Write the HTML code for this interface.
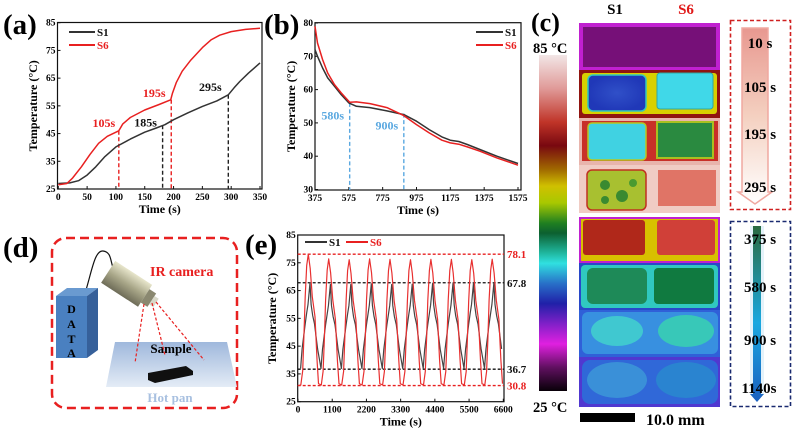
<!DOCTYPE html>
<html><head><meta charset="utf-8"><style>
body{margin:0;background:#fff;}
svg{display:block;font-family:"Liberation Serif",serif;font-weight:bold;}
</style></head><body>
<svg id="fig" width="797" height="431" viewBox="0 0 797 431" xmlns="http://www.w3.org/2000/svg">
<defs>
<linearGradient id="cbar" x1="0" y1="0" x2="0" y2="1">
<stop offset="0" stop-color="#f2e6e6"/><stop offset="0.1" stop-color="#e09a98"/><stop offset="0.2" stop-color="#c03428"/>
<stop offset="0.27" stop-color="#780810"/><stop offset="0.34" stop-color="#a06800"/><stop offset="0.39" stop-color="#d0c000"/>
<stop offset="0.44" stop-color="#a8c800"/><stop offset="0.5" stop-color="#208020"/><stop offset="0.53" stop-color="#0c6030"/>
<stop offset="0.59" stop-color="#20b8a0"/><stop offset="0.62" stop-color="#30e0e0"/><stop offset="0.68" stop-color="#2870c8"/>
<stop offset="0.74" stop-color="#2020a8"/><stop offset="0.8" stop-color="#8020c8"/><stop offset="0.86" stop-color="#e020e0"/>
<stop offset="0.93" stop-color="#601060"/><stop offset="1" stop-color="#080008"/></linearGradient>
<linearGradient id="pan" x1="0" y1="0" x2="0" y2="1"><stop offset="0" stop-color="#9fb8dc"/><stop offset="1" stop-color="#e4ecf6"/></linearGradient>
<linearGradient id="cam" x1="0" y1="0" x2="0" y2="1"><stop offset="0" stop-color="#e8e6cc"/><stop offset="0.5" stop-color="#a8a688"/><stop offset="1" stop-color="#6e6c58"/></linearGradient>
<linearGradient id="redArrow" x1="0" y1="0" x2="0" y2="1"><stop offset="0" stop-color="#e89890"/><stop offset="0.5" stop-color="#f4d0c0"/><stop offset="1" stop-color="#ffffff"/></linearGradient>
<linearGradient id="blueArrow" x1="0" y1="0" x2="0" y2="1"><stop offset="0" stop-color="#2a6a40"/><stop offset="0.55" stop-color="#1aa8e0"/><stop offset="1" stop-color="#1a60c0"/></linearGradient>
<radialGradient id="g1"><stop offset="0" stop-color="#3050c8"/><stop offset="1" stop-color="#2038b8"/></radialGradient>
</defs>

<!-- Panel labels -->
<text x="3" y="34" font-size="29">(a)</text>
<text x="264" y="34" font-size="29">(b)</text>
<text x="531" y="31" font-size="26">(c)</text>
<text x="3" y="257" font-size="29">(d)</text>
<text x="245" y="254" font-size="29">(e)</text>

<g id="chartA"></g>
<g id="chartB"></g>
<g id="chartE"></g>

<!-- Panel c -->
<g>
<text x="615" y="14" font-size="15" text-anchor="middle">S1</text>
<text x="686" y="14" font-size="15" text-anchor="middle" fill="#e01818">S6</text>
<text x="533" y="53" font-size="14.5">85 °C</text>
<text x="533" y="412" font-size="14.5">25 °C</text>
<rect x="539" y="55" width="28" height="336" fill="url(#cbar)"/>
<g>
<rect x="579" y="23" width="141" height="47" fill="#c020d0"/><rect x="583" y="27" width="133" height="40" fill="#761078"/>
<rect x="579" y="70" width="141" height="48" fill="#901410"/><rect x="582" y="73" width="135" height="41" rx="3" fill="#d8d000"/>
<rect x="588" y="75" width="58" height="36" rx="5" fill="url(#g1)" stroke="#30c8c0" stroke-width="1.5"/>
<rect x="657" y="73" width="56" height="36" rx="3" fill="#40d8e8" stroke="#30a8a0"/>
<rect x="579" y="118" width="141" height="47" fill="#e8b4ac"/><rect x="582" y="121" width="136" height="40" fill="#c83028"/>
<rect x="588" y="123" width="58" height="37" rx="4" fill="#40d2e2" stroke="#b8c820" stroke-width="1.5"/>
<rect x="657" y="122" width="56" height="36" fill="#2a8a40" stroke="#a8c020" stroke-width="2"/>
<rect x="579" y="165" width="141" height="48" fill="#f0ccc4"/>
<rect x="587" y="170" width="59" height="40" rx="5" fill="#a8c030" stroke="#c03020" stroke-width="1.5"/>
<circle cx="605" cy="185" r="5" fill="#3a8a30"/><circle cx="622" cy="196" r="6" fill="#3a8a30"/><circle cx="605" cy="200" r="4" fill="#3a8a30"/><circle cx="633" cy="183" r="4" fill="#4a9a30"/>
<rect x="658" y="170" width="58" height="36" fill="#e07466"/>
</g>
<g>
<rect x="579" y="217" width="141" height="46" fill="#c020d0"/><rect x="581" y="219" width="137" height="42" fill="#d8c000"/>
<rect x="583" y="220" width="62" height="35" rx="3" fill="#b0281a"/><rect x="657" y="220" width="58" height="35" rx="3" fill="#d04038"/>
<rect x="579" y="263" width="141" height="47" fill="#2848c8"/><rect x="581" y="265" width="137" height="43" rx="4" fill="#30c8c0"/>
<rect x="587" y="268" width="60" height="36" rx="6" fill="#1e8a58"/><rect x="654" y="268" width="60" height="36" rx="4" fill="#107a40"/>
<rect x="579" y="310" width="141" height="47" fill="#3060d8"/><rect x="582" y="312" width="136" height="42" rx="6" fill="#3890e0"/>
<ellipse cx="617" cy="331" rx="26" ry="15" fill="#40c8d0"/><ellipse cx="686" cy="331" rx="28" ry="16" fill="#38c8b8"/>
<rect x="579" y="357" width="141" height="50" fill="#5038d0"/><rect x="582" y="360" width="136" height="44" rx="8" fill="#3068d8"/>
<ellipse cx="617" cy="380" rx="30" ry="18" fill="#3a90d8"/><ellipse cx="686" cy="380" rx="30" ry="18" fill="#2a84d0"/>
</g>
<rect x="580" y="413" width="55" height="9" fill="#000"/>
<text x="646" y="425" font-size="16">10.0 mm</text>
<rect x="730.5" y="20.5" width="60" height="189" fill="none" stroke="#d02020" stroke-width="1.6" stroke-dasharray="4,2.5"/>
<path d="M742 28 H768 V192 H772 L755 204 L738 192 H742 Z" fill="url(#redArrow)" stroke="#f0a8a0" stroke-width="1.5"/>
<text x="760" y="48" font-size="15" text-anchor="middle">10 s</text>
<text x="760" y="92" font-size="15" text-anchor="middle">105 s</text>
<text x="760" y="139" font-size="15" text-anchor="middle">195 s</text>
<text x="760" y="192" font-size="15" text-anchor="middle">295 s</text>
<rect x="730.5" y="221.5" width="60" height="185" fill="none" stroke="#1a2a70" stroke-width="1.6" stroke-dasharray="4,2.5"/>
<path d="M750 226 H764 V394 L757 402 L750 394 Z" fill="#d8ecf8" opacity="0.7"/>
<path d="M753 226 H761 V394 H764 L757 402 L750 394 H753 Z" fill="url(#blueArrow)"/>
<text x="760" y="244" font-size="15" text-anchor="middle">375 s</text>
<text x="760" y="292" font-size="15" text-anchor="middle">580 s</text>
<text x="760" y="345" font-size="15" text-anchor="middle">900 s</text>
<text x="759" y="393" font-size="15" text-anchor="middle">1140s</text>
</g>

<!-- Panel d -->
<g>
<rect x="52" y="238" width="185" height="170" rx="14" fill="none" stroke="#e82020" stroke-width="2.5" stroke-dasharray="9,5"/>
<polygon points="115,342 227,342 237,387 106,387" fill="url(#pan)"/>
<text x="170" y="402" font-size="13" fill="#a8c0e0" text-anchor="middle">Hot pan</text>
<polygon points="148,373 186,366 193,371 193,375 155,383 148,380" fill="#101010"/>
<text x="171" y="353" font-size="13" text-anchor="middle">Sample</text>
<path d="M86 290 C92 270 95 250 103 251 C112 252 110 262 114 270" fill="none" stroke="#111" stroke-width="1.2"/>
<polygon points="56,296 87,296 87,358 56,358" fill="#4a80c0"/>
<polygon points="56,296 67,288 98,288 87,296" fill="#6a9ad0"/>
<polygon points="87,296 98,288 98,350 87,358" fill="#36609a"/>
<text x="71.5" y="313" font-size="12" text-anchor="middle">D</text>
<text x="71.5" y="328" font-size="12" text-anchor="middle">A</text>
<text x="71.5" y="343" font-size="12" text-anchor="middle">T</text>
<text x="71.5" y="357" font-size="12" text-anchor="middle">A</text>
<g transform="translate(130,286) rotate(33)">
<rect x="-26" y="-13" width="44" height="26" fill="url(#cam)"/>
<rect x="18" y="-8" width="8" height="16" fill="#8a8870"/>
<rect x="26" y="-5" width="5" height="10" fill="#d8d8c8"/>
</g>
<text x="150" y="276" font-size="14" fill="#e82020">IR camera</text>
<g stroke="#e82020" stroke-width="1.2" stroke-dasharray="3,2" fill="none">
<line x1="144" y1="304" x2="135" y2="363"/><line x1="152" y1="303" x2="165" y2="355"/><line x1="156" y1="302" x2="204" y2="360"/>
</g>
</g>

<script>
// ---------- Panel (a) data ----------
const aS1Time=[0,20,35,50,65,80,100,125,150,170,185,200,225,250,275,295,305,315,330,350];
const aS1Temp=[27,27.2,28,30,33,36.5,40.2,43,45.5,47,48.2,50,52.5,54.8,56.8,59,61.5,63.8,66.8,70.5];
const aS6Time=[0,15,25,40,55,70,85,105,112,125,150,175,195,198,205,215,230,250,265,280,300,325,350];
const aS6Temp=[26.5,27,29,33,37.5,41.5,44,46,48.5,50.8,53.5,55.5,57.2,59.5,63.5,67.5,71.5,76,78.8,80.5,81.8,82.6,83];
const aXTicks=[0,50,100,150,200,250,300,350];
const aYTicks=[25,35,45,55,65,75,85];
const aMarkS6=[105,196];const aMarkS6Temp=[46,57.2];
const aMarkS1=[181,295];const aMarkS1Temp=[48,59];
// ---------- Panel (b) data ----------
const bS1Time=[375,390,420,450,490,530,575,620,700,800,900,975,1050,1125,1175,1225,1275,1350,1450,1575];
const bS1Temp=[72,70,66.5,63.5,61,58.5,56,55,54.6,53.6,52.5,50.5,48,45.8,44.8,44.4,43.5,42,40,37.8];
const bS6Time=[375,390,420,450,490,530,580,620,700,800,900,975,1050,1125,1175,1225,1275,1350,1450,1575];
const bS6Temp=[79,74,69,65,61.5,59,56.2,56.3,55.8,54.6,52.2,49.5,47,44.8,44,43.6,42.8,41.5,39.5,37.3];
const bXTicks=[375,575,775,975,1175,1375,1575];
const bYTicks=[30,40,50,60,70,80];
const bMarks=[580,900];const bMarkTemp=[56,52.8];
// ---------- Panel (e) data ----------
const ePeakTimes=[331,988,1645,2302,2959,3616,4273,4930,5587,6244];
const eS6Peaks=[78.1,76.4,76.1,76.4,76.2,76.1,76.2,76.2,76.1,76.3];
const eS1Peaks=[67.8,67.2,67.2,67.4,67.2,67.3,67.5,67.6,67.7,67.8];
const eS6CycleDt=[-328,-240,-180,-140,-100,-50,0,60,130,215,280,329];
const eS6CycleT=[30.8,31,36,48,62,73,77,72,62,55,40,31.5];
const eS1CycleDt=[-248,-200,-100,-50,-10,54,90,140,200,300,408];
const eS1CycleT=[37,44,53,57,60,67.8,60,56,53,44,37];
const eXTicks=[0,1100,2200,3300,4400,5500,6600];
const eYTicks=[25,35,45,55,65,75,85];
const eRefLines=[78.1,67.8,36.7,30.8];
const eRefLabels=["78.1","67.8","36.7","30.8"];
const eRefColors=["#e82020","#111","#111","#e82020"];

const NS="http://www.w3.org/2000/svg";
function mk(tag,attrs,parent){const e=document.createElementNS(NS,tag);for(const k in attrs)e.setAttribute(k,attrs[k]);parent.appendChild(e);return e;}
function lin(d0,d1,r0,r1){return v=>r0+(v-d0)*(r1-r0)/(d1-d0);}

function axes(g,f){
  const fr=mk('rect',{x:f.L,y:f.T,width:f.R-f.L,height:f.B-f.T,fill:'none',stroke:'#111','stroke-width':1.2},g);
  
  
  f.xt.forEach(v=>{const x=f.sx(v);
    mk('line',{x1:x,y1:f.B,x2:x,y2:f.B-3,stroke:'#111'},g);
    const t=mk('text',{x:x,y:f.B+11,'font-size':9.5,'text-anchor':'middle'},g);t.textContent=v;
    
    });
  f.yt.forEach(v=>{const y=f.sy(v);
    mk('line',{x1:f.L,y1:y,x2:f.L+3,y2:y,stroke:'#111'},g);
    const t=mk('text',{x:f.L-2,y:y+3,'font-size':9.5,'text-anchor':'end'},g);t.textContent=v;
    
    });
  const xt=mk('text',{x:(f.L+f.R)/2,y:f.B+24,'font-size':12,'text-anchor':'middle'},g);xt.textContent='Time (s)';
  
  
  const cy=(f.T+f.B)/2;
  const yt=mk('text',{x:f.yx,y:cy,'font-size':12,'text-anchor':'middle',transform:`rotate(-90 ${f.yx} ${cy})`},g);yt.textContent='Temperature (°C)';
  
  
}
function series(g,xs,ys,sx,sy,color,name,w){
  const d=xs.map((x,i)=>(i?'L':'M')+sx(x).toFixed(1)+' '+sy(ys[i]).toFixed(1)).join(' ');
  const p=mk('path',{d:d,fill:'none',stroke:color,'stroke-width':w||1.5,'stroke-linejoin':'round'},g);
  
  
}
function legend(g,x,y,label,color,len){
  mk('line',{x1:x,y1:y,x2:x+len,y2:y,stroke:color,'stroke-width':2},g);
  const t=mk('text',{x:x+len+2,y:y+4,'font-size':11,fill:color==='#e82020'?'#e82020':'#111'},g);t.textContent=label;
  
  
}
function vdash(g,x,y0,y1,color,name){
  const l=mk('line',{x1:x,y1:y0,x2:x,y2:y1,stroke:color,'stroke-width':1.4,'stroke-dasharray':'4,2.5'},g);
  
  
}
function label(g,x,y,txt,color,name,size){
  const t=mk('text',{x:x,y:y,'font-size':size||12,fill:color,'text-anchor':'middle'},g);t.textContent=txt;
  
  
}

// Chart A
(function(){
  const g=document.getElementById('chartA');
  const f={L:57.5,R:262,T:22.5,B:189,yx:37,xt:aXTicks,yt:aYTicks};
  f.sx=lin(0,350,58.3,260);f.sy=lin(25,85,189,22.7);
  axes(g,f);
  aMarkS6.forEach((t,i)=>vdash(g,f.sx(t),f.sy(aMarkS6Temp[i]),f.B,'#e82020','marker-line-s6'));
  aMarkS1.forEach((t,i)=>vdash(g,f.sx(t),f.sy(aMarkS1Temp[i]),f.B,'#222','marker-line-s1'));
  series(g,aS1Time,aS1Temp,f.sx,f.sy,'#333','line-s1');
  series(g,aS6Time,aS6Temp,f.sx,f.sy,'#e82020','line-s6');
  legend(g,69,32,'S1','#333',26);legend(g,69,45,'S6','#e82020',26);
  label(g,f.sx(105)-15,f.sy(aMarkS6Temp[0])-4,'105s','#e82020','label-105s');
  label(g,f.sx(181)-17,f.sy(aMarkS1Temp[0])+1,'185s','#111','label-185s');
  label(g,f.sx(196)-17,f.sy(aMarkS6Temp[1])-3,'195s','#e82020','label-195s');
  label(g,f.sx(295)-18,f.sy(aMarkS1Temp[1])-4,'295s','#111','label-295s');
})();
// Chart B
(function(){
  const g=document.getElementById('chartB');
  const f={L:315,R:521,T:22.7,B:190,yx:295,xt:bXTicks,yt:bYTicks};
  f.sx=lin(375,1575,315,518);f.sy=lin(30,80,189.5,23);
  axes(g,f);
  bMarks.forEach((t,i)=>vdash(g,f.sx(t),f.sy(bMarkTemp[i]),f.B,'#5aa8e0','marker-line-b'));
  series(g,bS1Time,bS1Temp,f.sx,f.sy,'#333','line-s1');
  series(g,bS6Time,bS6Temp,f.sx,f.sy,'#e82020','line-s6');
  legend(g,476,32,'S1','#333',27);legend(g,476,45,'S6','#e82020',27);
  label(g,f.sx(580)-17,f.sy(51),'580s','#5aa8e0','label-580s');
  label(g,f.sx(900)-17,f.sy(48),'900s','#5aa8e0','label-900s');
})();
// Chart E
(function(){
  const g=document.getElementById('chartE');
  const f={L:297.7,R:504,T:235,B:401.7,yx:276,xt:eXTicks,yt:eYTicks};
  f.sx=lin(0,6600,298,503.3);f.sy=lin(25,85,401.7,235);
  axes(g,f);
  eRefLines.forEach((v,i)=>{
    const l=mk('line',{x1:f.L,y1:f.sy(v),x2:f.R,y2:f.sy(v),stroke:eRefColors[i],'stroke-width':1.3,'stroke-dasharray':'3,2'},g);
    
    
    const t=mk('text',{x:f.R+3,y:f.sy(v)+4,'font-size':11,fill:eRefColors[i]},g);t.textContent=eRefLabels[i];
    
    
  });
  function build(dts,Ts,peaks,basePeak){
    const xs=[],ys=[];const tr=Ts[0];
    ePeakTimes.forEach((P,c)=>{
      dts.forEach((dt,k)=>{
        if(c>0&&k===0)return;
        const t=P+dt; if(t<0||t>6600)return;
        xs.push(t); ys.push(tr+(Ts[k]-tr)*(peaks[c]-tr)/(basePeak-tr));
      });
    });
    return [xs,ys];
  }
  const s1=build(eS1CycleDt,eS1CycleT,eS1Peaks,67.8);
  const s6=build(eS6CycleDt,eS6CycleT,eS6Peaks,77);
  series(g,s1[0],s1[1],f.sx,f.sy,'#444','line-s1',1.2);
  series(g,s6[0],s6[1],f.sx,f.sy,'#e83030','line-s6',1.2);
  legend(g,305,242,'S1','#333',22);legend(g,346,242,'S6','#e82020',22);
})();
</script>
</svg>
</body></html>
